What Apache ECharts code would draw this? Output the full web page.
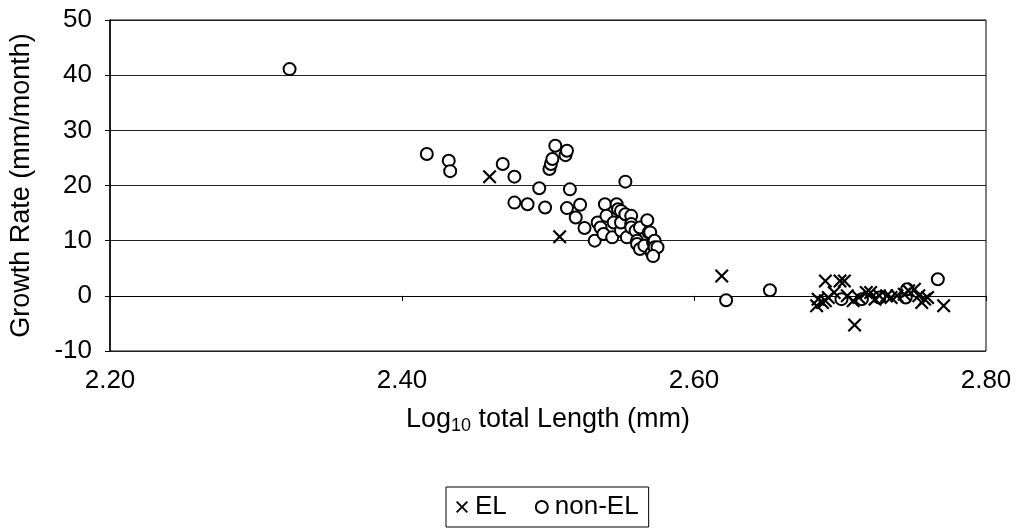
<!DOCTYPE html>
<html>
<head>
<meta charset="utf-8">
<script src="https://cdn.jsdelivr.net/npm/echarts@6/dist/echarts.min.js"></script>
<style>html,body{margin:0;padding:0;background:#fff;}#c{width:1016px;height:531px;}</style>
</head>
<body>
<div id="c"></div>
<script>
// Data: [log10 total length, growth rate]
const elPoints = [
  [2.460,21.6],[2.508,10.7],[2.619,3.6],
  [2.684,-1.8],[2.685,-0.6],[2.688,-1.2],[2.690,-0.9],[2.690,2.7],[2.692,-0.3],
  [2.696,0.6],[2.700,2.7],[2.703,2.7],[2.705,0.0],[2.709,-0.9],[2.710,-5.3],
  [2.713,-0.3],[2.718,0.6],[2.721,0.6],[2.724,-0.6],[2.727,0.0],[2.732,0.0],
  [2.735,-0.3],[2.739,0.0],[2.744,0.3],[2.747,0.9],[2.751,1.2],[2.754,0.0],
  [2.756,-1.2],[2.758,-0.6],[2.760,-0.3],[2.771,-1.8]
];
const nonElPoints = [
  [2.323,41.1],
  [2.417,25.7],[2.432,24.5],[2.433,22.6],
  [2.469,23.9],[2.477,21.6],[2.477,16.9],[2.486,16.6],[2.494,19.5],[2.498,16.0],
  [2.501,23.0],[2.502,23.9],[2.503,24.8],[2.505,27.2],[2.512,25.5],[2.513,26.3],
  [2.513,15.9],[2.515,19.3],[2.519,14.2],[2.522,16.5],[2.525,12.3],[2.532,10.0],[2.553,20.7],
  [2.534,13.3],[2.536,12.4],[2.538,11.2],[2.539,16.6],[2.540,14.5],[2.544,10.6],
  [2.545,13.3],[2.547,16.6],[2.548,15.7],[2.550,15.4],[2.550,11.8],[2.550,13.3],
  [2.553,14.8],[2.554,10.6],[2.557,14.5],[2.557,13.0],[2.557,12.4],[2.560,11.8],
  [2.561,10.0],[2.561,9.4],[2.563,12.4],[2.563,8.5],[2.566,9.1],[2.568,13.7],
  [2.569,11.5],[2.570,11.5],[2.571,7.8],[2.572,9.7],[2.573,10.0],[2.573,8.8],
  [2.575,8.8],[2.572,7.2],
  [2.622,-0.8],[2.652,1.0],[2.701,-0.6],[2.715,-0.6],[2.727,-0.3],[2.745,-0.3],
  [2.746,1.2],[2.767,3.0]
];
const seriesNames = ['EL', 'non-EL'];
const xTicks = [2.20, 2.40, 2.60, 2.80];
const yTicks = [-10, 0, 10, 20, 30, 40, 50];

const FONT = "'Liberation Sans', Arial, sans-serif";
// filled X shape
const crossPath = 'path://M0,1.1L1.1,0L5,3.9L8.9,0L10,1.1L6.1,5L10,8.9L8.9,10L5,6.1L1.1,10L0,8.9L3.9,5Z';

const chart = echarts.init(document.getElementById('c'), null, {renderer: 'canvas'});
chart.setOption({
  backgroundColor: '#fff',
  animation: false,
  textStyle: {fontFamily: FONT, color: '#000'},
  grid: {left: 110, right: 30, top: 20, bottom: 180, show: true, borderColor: '#000', borderWidth: 1},
  xAxis: {
    type: 'value',
    min: xTicks[0], max: xTicks[xTicks.length - 1], interval: 0.2,
    name: '{a|Log}{s|10}{a| total Length (mm)}',
    nameLocation: 'middle', nameGap: 54,
    nameTextStyle: {
      rich: {
        a: {fontSize: 27, fontFamily: FONT, color: '#000'},
        s: {fontSize: 18, fontFamily: FONT, color: '#000', verticalAlign: 'bottom', padding: [12, 0, 0, 0]}
      }
    },
    axisLine: {show: true, lineStyle: {color: '#000', width: 1}},
    axisTick: {show: true, inside: false, length: 5, lineStyle: {color: '#000'}},
    axisLabel: {fontSize: 26, color: '#000', margin: 17, formatter: v => v.toFixed(2)},
    splitLine: {show: false}
  },
  yAxis: {
    type: 'value',
    min: yTicks[0], max: yTicks[yTicks.length - 1], interval: 10,
    name: 'Growth Rate (mm/month)',
    nameLocation: 'middle', nameGap: 75, nameRotate: 90,
    nameTextStyle: {fontSize: 27, color: '#000', fontFamily: FONT},
    axisLine: {show: true, lineStyle: {color: '#000', width: 1.5}},
    axisTick: {show: true, inside: false, length: 5, lineStyle: {color: '#000'}},
    axisLabel: {fontSize: 26, color: '#000', margin: 18},
    splitLine: {show: true, lineStyle: {color: '#222', width: 1}}
  },
  legend: {
    left: 446, top: 487,
    orient: 'horizontal',
    borderColor: '#000', borderWidth: 1,
    padding: [7, 10, 7, 10],
    itemGap: 28, itemWidth: 12, itemHeight: 12,
    textStyle: {fontSize: 26, color: '#000', fontFamily: FONT, padding: [0, 0, 0, 2]},
    data: [
      {name: seriesNames[0], icon: crossPath, itemStyle: {color: '#000', borderWidth: 0, opacity: 1}},
      {name: seriesNames[1], icon: 'emptyCircle', itemStyle: {color: '#000', borderColor: '#000', borderWidth: 1.8, opacity: 1}}
    ]
  },
  series: [
    {
      name: seriesNames[0], type: 'scatter', data: elPoints,
      symbol: crossPath, symbolSize: 14,
      itemStyle: {color: '#000', borderWidth: 0, opacity: 1},
      z: 3
    },
    {
      name: seriesNames[1], type: 'scatter', data: nonElPoints,
      symbol: 'emptyCircle', symbolSize: 12,
      itemStyle: {color: '#000', borderColor: '#000', borderWidth: 2.5, opacity: 1},
      z: 2
    }
  ]
});
</script>
</body>
</html>
